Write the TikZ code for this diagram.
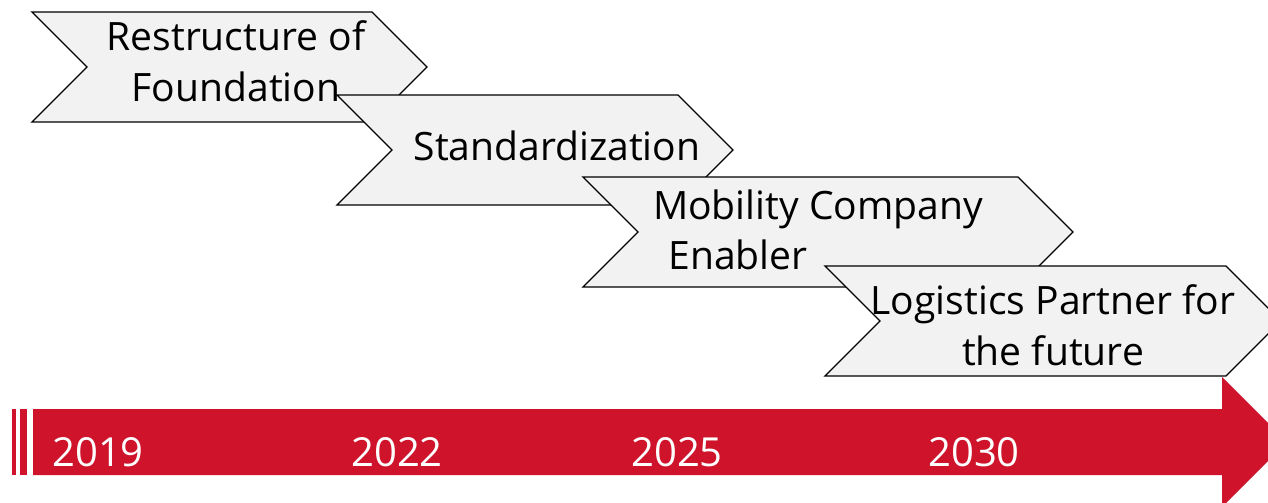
\documentclass[tikz,border=0pt]{standalone}
\usepackage{fontspec}
\setmainfont{Open Sans}
\usepackage{xcolor}
\usetikzlibrary{positioning, calc}

\definecolor{roadred}{RGB}{206,19,43}
\definecolor{chevgray}{RGB}{242,242,242}

\tikzset{
  chevron/.style={draw=black, fill=chevgray, line width=1pt, line join=miter},
  chevtext/.style={align=center, font=\fontsize{29.3}{38}\selectfont, inner sep=0pt},
  yearlbl/.style={text=white, font=\fontsize{30}{35}\selectfont, inner sep=0pt}
}

\begin{document}
\begin{tikzpicture}[x=0.75pt, y=-0.75pt]
\clip (0,0) rectangle (1268,503);
% Timeline arrow with stripes
\fill[roadred] (12,409) rectangle (16,475);
\fill[roadred] (20,409) rectangle (27,475);
\fill[roadred] (33,409) -- (1222,409) -- (1222,377) -- (1287,442)
    -- (1222,507) -- (1222,475) -- (33,475) -- cycle;
\foreach \yr/\xc in {2019/98, 2022/397, 2025/677, 2030/974} {
    \node[yearlbl] (y\yr) at (\xc,452) {\yr};
}
% Chevrons - one step after the other
\foreach \xl/\xr/\yt in {32/372/12, 337/678/95, 583/1018/177, 825/1226/266} {
    \draw[chevron] (\xl,\yt) -- (\xr,\yt) -- (\xr+55,\yt+55) -- (\xr,\yt+110)
        -- (\xl,\yt+110) -- (\xl+55,\yt+55) -- cycle;
}
\node[chevtext] (restr) at (236,61) {Restructure of\\Foundation};
\node[chevtext] (stand) at (557,146) {Standardization};
\node[chevtext] (mobil) at (818,230) {Mobility Company\\Enabler\hspace*{120pt}};
\node[chevtext] (logis) at (1053,325) {Logistics Partner for\\the future};
\end{tikzpicture}
\end{document}
